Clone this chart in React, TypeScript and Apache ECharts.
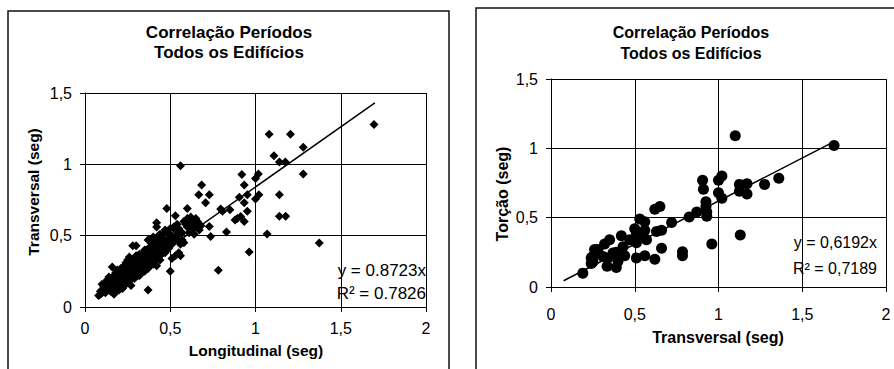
import React, { useEffect, useRef } from "react";
import * as echarts from "echarts";

// Left panel: Longitudinal (x) vs Transversal (y), seconds
const longTransPoints: [number, number][] = [
  [0.08, 0.08], [0.09, 0.09], [0.09, 0.11], [0.10, 0.10], [0.10, 0.16], [0.11, 0.12], [0.11, 0.14],
  [0.12, 0.10], [0.12, 0.17], [0.13, 0.13], [0.13, 0.19], [0.14, 0.12], [0.14, 0.16], [0.15, 0.15],
  [0.15, 0.20], [0.16, 0.28], [0.16, 0.13], [0.16, 0.18], [0.17, 0.09], [0.17, 0.22], [0.17, 0.15],
  [0.18, 0.11], [0.18, 0.19], [0.18, 0.24], [0.19, 0.14], [0.19, 0.21], [0.19, 0.26], [0.20, 0.12],
  [0.20, 0.17], [0.20, 0.23], [0.21, 0.19], [0.21, 0.27], [0.21, 0.15], [0.22, 0.21], [0.22, 0.25],
  [0.22, 0.13], [0.23, 0.18], [0.23, 0.29], [0.23, 0.23], [0.24, 0.16], [0.24, 0.26], [0.24, 0.31],
  [0.25, 0.20], [0.25, 0.24], [0.25, 0.33], [0.26, 0.18], [0.26, 0.28], [0.26, 0.35], [0.27, 0.22],
  [0.27, 0.31], [0.27, 0.15], [0.28, 0.25], [0.28, 0.29], [0.28, 0.43], [0.29, 0.20], [0.29, 0.33],
  [0.29, 0.27], [0.30, 0.43], [0.30, 0.24], [0.30, 0.30], [0.30, 0.36], [0.31, 0.28], [0.31, 0.22],
  [0.31, 0.33], [0.32, 0.26], [0.32, 0.31], [0.32, 0.37], [0.33, 0.29], [0.33, 0.24], [0.33, 0.34],
  [0.34, 0.27], [0.34, 0.32], [0.34, 0.38], [0.35, 0.30], [0.35, 0.35], [0.35, 0.25], [0.36, 0.33],
  [0.36, 0.28], [0.36, 0.40], [0.37, 0.12], [0.37, 0.31], [0.37, 0.36], [0.37, 0.47], [0.38, 0.34],
  [0.38, 0.29], [0.38, 0.42], [0.39, 0.32], [0.39, 0.38], [0.39, 0.45], [0.40, 0.35], [0.40, 0.30],
  [0.40, 0.40], [0.40, 0.49], [0.41, 0.33], [0.41, 0.43], [0.41, 0.37], [0.42, 0.59], [0.42, 0.56],
  [0.42, 0.40], [0.42, 0.46], [0.42, 0.29], [0.43, 0.36], [0.43, 0.50], [0.43, 0.42], [0.44, 0.39],
  [0.44, 0.45], [0.44, 0.33], [0.45, 0.41], [0.45, 0.48], [0.45, 0.37], [0.46, 0.51], [0.46, 0.43],
  [0.47, 0.38], [0.47, 0.46], [0.48, 0.69], [0.48, 0.44], [0.48, 0.53], [0.49, 0.41], [0.49, 0.48],
  [0.50, 0.55], [0.50, 0.25], [0.50, 0.45], [0.51, 0.34], [0.51, 0.50], [0.52, 0.56], [0.52, 0.47],
  [0.53, 0.54], [0.53, 0.36], [0.53, 0.64], [0.54, 0.50], [0.55, 0.46], [0.55, 0.38], [0.55, 0.55],
  [0.56, 0.36], [0.56, 0.99], [0.56, 0.44], [0.57, 0.47], [0.57, 0.52], [0.58, 0.60], [0.58, 0.45],
  [0.59, 0.58], [0.60, 0.69], [0.60, 0.62], [0.60, 0.56], [0.61, 0.52], [0.61, 0.60], [0.62, 0.58],
  [0.62, 0.63], [0.63, 0.55], [0.63, 0.61], [0.64, 0.51], [0.64, 0.59], [0.65, 0.62], [0.65, 0.56],
  [0.66, 0.60], [0.67, 0.54], [0.67, 0.58], [0.68, 0.57],
  [0.12, 0.14], [0.14, 0.21], [0.15, 0.11], [0.17, 0.12], [0.19, 0.17], [0.20, 0.20], [0.21, 0.22],
  [0.22, 0.17], [0.23, 0.26], [0.24, 0.21], [0.25, 0.28], [0.26, 0.23], [0.27, 0.26], [0.28, 0.21],
  [0.29, 0.30], [0.30, 0.27], [0.31, 0.36], [0.32, 0.22], [0.33, 0.31], [0.34, 0.35], [0.35, 0.40],
  [0.36, 0.36], [0.37, 0.27], [0.38, 0.37], [0.39, 0.41], [0.40, 0.44], [0.41, 0.46], [0.43, 0.39],
  [0.44, 0.51], [0.46, 0.47], [0.47, 0.54], [0.49, 0.51], [0.51, 0.44], [0.54, 0.58], [0.56, 0.52],
  [0.684, 0.855], [0.667, 0.787], [0.729, 0.787], [0.707, 0.73], [0.729, 0.565], [0.737, 0.495],
  [0.782, 0.257], [0.796, 0.687], [0.807, 0.671], [0.83, 0.526], [0.85, 0.682], [0.88, 0.61],
  [0.893, 0.62], [0.913, 0.635], [0.905, 0.77], [0.92, 0.928], [0.934, 0.855], [0.934, 0.73],
  [0.934, 0.60], [0.952, 0.787], [0.952, 0.671], [0.963, 0.386], [1.0, 0.90], [1.0, 0.757],
  [1.017, 0.932], [1.02, 0.787], [1.068, 0.512], [1.08, 1.21], [1.108, 1.06], [1.14, 1.016],
  [1.175, 1.016], [1.14, 0.787], [1.14, 0.636], [1.177, 0.636], [1.205, 1.21], [1.28, 1.12],
  [1.28, 0.932], [1.374, 0.449], [1.695, 1.28],
];
const leftTrendX = [0.07, 1.7];
const leftTrendY = [0.06, 1.43];

// Right panel: Transversal (x) vs Torção (y), seconds
const transTorPoints: [number, number][] = [
  [0.19, 0.10], [0.24, 0.17], [0.25, 0.18], [0.24, 0.21], [0.25, 0.22], [0.26, 0.27], [0.28, 0.27],
  [0.31, 0.22], [0.32, 0.31], [0.34, 0.21], [0.335, 0.15], [0.35, 0.34], [0.37, 0.245], [0.39, 0.25],
  [0.40, 0.185], [0.39, 0.14], [0.42, 0.37], [0.43, 0.29], [0.44, 0.225], [0.47, 0.34], [0.50, 0.42],
  [0.51, 0.39], [0.51, 0.32], [0.51, 0.21], [0.53, 0.49], [0.54, 0.38], [0.56, 0.47], [0.56, 0.41],
  [0.56, 0.225], [0.57, 0.34], [0.62, 0.56], [0.65, 0.58], [0.62, 0.20], [0.63, 0.40], [0.66, 0.41],
  [0.66, 0.28], [0.72, 0.465], [0.785, 0.255], [0.785, 0.225], [0.825, 0.505], [0.87, 0.54],
  [0.905, 0.77], [0.91, 0.705], [0.925, 0.615], [0.925, 0.58], [0.93, 0.54], [0.93, 0.51],
  [0.96, 0.31], [1.0, 0.77], [1.02, 0.80], [1.0, 0.68], [1.02, 0.64], [1.10, 1.09], [1.125, 0.74],
  [1.125, 0.69], [1.13, 0.375], [1.17, 0.745], [1.17, 0.67], [1.275, 0.74], [1.36, 0.785],
  [1.69, 1.02],
];
const rightTrendX = [0.075, 1.69];
const rightTrendY = [0.045, 1.048];

const titleLines = ["Correlação Períodos", "Todos os Edifícios"];
const leftEquation = ["y = 0.8723x", "R² = 0.7826"];
const rightEquation = ["y = 0,6192x", "R² = 0,7189"];

const FONT = "'Liberation Sans', Arial, Helvetica, sans-serif";

export default function App() {
  const ref = useRef<HTMLDivElement>(null);

  useEffect(() => {
    if (!ref.current) return;
    const chart = echarts.init(ref.current, null, { renderer: "svg" });
    const fmt = (v: number) => String(v).replace(".", ",");
    const axisCommon = (labelMargin: number, fontSize: number) => ({
      type: "value" as const,
      axisLine: { show: true, onZero: false, lineStyle: { color: "#000", width: 1 } },
      axisTick: { show: true, inside: false, length: 5, lineStyle: { color: "#000" } },
      axisLabel: { color: "#000", fontFamily: FONT, fontSize, margin: labelMargin, formatter: fmt },
      splitLine: { show: true, lineStyle: { color: "#000", width: 1 } },
    });

    const trendData = (xs: number[], ys: number[]) => xs.map((x, i) => [x, ys[i]]);

    chart.setOption({
      animation: false,
      backgroundColor: "#fff",
      grid: [
        { left: 85, right: 894 - 426, top: 93, bottom: 369 - 307 },
        { left: 551, right: 8, top: 79, bottom: 369 - 287 },
      ],
      xAxis: [
        { ...axisCommon(13, 16), gridIndex: 0, min: 0, max: 2, interval: 0.5 },
        { ...axisCommon(19, 16), gridIndex: 1, min: 0, max: 2, interval: 0.5 },
      ],
      yAxis: [
        { ...axisCommon(13, 16), gridIndex: 0, min: 0, max: 1.5, interval: 0.5 },
        { ...axisCommon(13, 16), gridIndex: 1, min: 0, max: 1.5, interval: 0.5 },
      ],
      series: [
        {
          type: "scatter",
          xAxisIndex: 0,
          yAxisIndex: 0,
          symbol: "diamond",
          symbolSize: 9,
          itemStyle: { color: "#000", opacity: 1 },
          data: longTransPoints,
          z: 3,
        },
        {
          type: "line",
          xAxisIndex: 0,
          yAxisIndex: 0,
          showSymbol: false,
          symbol: "none",
          lineStyle: { color: "#000", width: 1.5 },
          data: trendData(leftTrendX, leftTrendY),
          z: 4,
        },
        {
          type: "scatter",
          xAxisIndex: 1,
          yAxisIndex: 1,
          symbol: "circle",
          symbolSize: 11,
          itemStyle: { color: "#000", opacity: 1 },
          data: transTorPoints,
          z: 3,
        },
        {
          type: "line",
          xAxisIndex: 1,
          yAxisIndex: 1,
          showSymbol: false,
          symbol: "none",
          lineStyle: { color: "#000", width: 1.5 },
          data: trendData(rightTrendX, rightTrendY),
          z: 4,
        },
      ],
      graphic: [
        {
          type: "rect",
          shape: { x: 8, y: 11, width: 441, height: 380 },
          style: { fill: "none", stroke: "#111", lineWidth: 1.5 },
          silent: true,
          z: 0,
        },
        {
          type: "rect",
          shape: { x: 476, y: 8, width: 440, height: 380 },
          style: { fill: "none", stroke: "#111", lineWidth: 1.5 },
          silent: true,
          z: 0,
        },
        {
          type: "text",
          x: 229,
          y: 32,
          style: { text: titleLines[0], font: `bold 17px ${FONT}`, fill: "#000", align: "center", verticalAlign: "middle" },
        },
        {
          type: "text",
          x: 229,
          y: 52,
          style: { text: titleLines[1], font: `bold 17px ${FONT}`, fill: "#000", align: "center", verticalAlign: "middle" },
        },
        {
          type: "text",
          x: 691,
          y: 32,
          style: { text: titleLines[0], font: `bold 16px ${FONT}`, fill: "#000", align: "center", verticalAlign: "middle" },
        },
        {
          type: "text",
          x: 691,
          y: 53,
          style: { text: titleLines[1], font: `bold 16px ${FONT}`, fill: "#000", align: "center", verticalAlign: "middle" },
        },
        {
          type: "text",
          x: 256,
          y: 350,
          style: { text: "Longitudinal (seg)", font: `bold 15.5px ${FONT}`, fill: "#000", align: "center", verticalAlign: "middle" },
        },
        {
          type: "text",
          x: 33,
          y: 192,
          rotation: Math.PI / 2,
          style: { text: "Transversal (seg)", font: `bold 15.5px ${FONT}`, fill: "#000", align: "center", verticalAlign: "middle" },
        },
        {
          type: "text",
          x: 718,
          y: 337,
          style: { text: "Transversal (seg)", font: `bold 16px ${FONT}`, fill: "#000", align: "center", verticalAlign: "middle" },
        },
        {
          type: "text",
          x: 502,
          y: 194,
          rotation: Math.PI / 2,
          style: { text: "Torção (seg)", font: `bold 16px ${FONT}`, fill: "#000", align: "center", verticalAlign: "middle" },
        },
        {
          type: "text",
          x: 426,
          y: 270,
          style: { text: leftEquation[0], font: `17px ${FONT}`, fill: "#000", align: "right", verticalAlign: "middle" },
          z: 10,
        },
        {
          type: "text",
          x: 426,
          y: 293,
          style: { text: leftEquation[1], font: `17px ${FONT}`, fill: "#000", align: "right", verticalAlign: "middle" },
          z: 10,
        },
        {
          type: "text",
          x: 877,
          y: 242,
          style: { text: rightEquation[0], font: `16px ${FONT}`, fill: "#000", align: "right", verticalAlign: "middle" },
          z: 10,
        },
        {
          type: "text",
          x: 877,
          y: 268,
          style: { text: rightEquation[1], font: `16px ${FONT}`, fill: "#000", align: "right", verticalAlign: "middle" },
          z: 10,
        },
      ],
    });

    return () => chart.dispose();
  }, []);

  return (
    <div
      ref={ref}
      style={{ position: "fixed", left: 0, top: 0, width: 894, height: 369, background: "#fff" }}
    />
  );
}
